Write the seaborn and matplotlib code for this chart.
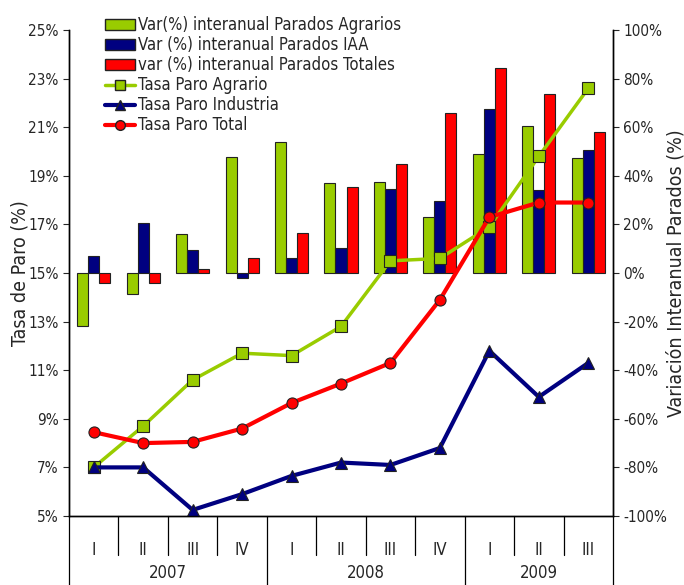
import numpy as np
import pandas as pd
import seaborn as sns
from matplotlib import pyplot as plt
from matplotlib.lines import Line2D
from matplotlib.patches import Patch

# datos
trimestres = ['I', 'II', 'III', 'IV', 'I', 'II', 'III', 'IV', 'I', 'II', 'III']
anios = ['2007', '2008', '2009']
var_agrarios = [-21.8, -8.6, 16.0, 47.7, 53.9, 37.0, 37.4, 23.0, 49.0, 60.5, 47.3]
var_iaa = [7.0, 20.6, 9.5, -2.0, 6.0, 10.4, 34.6, 29.6, 67.5, 34.0, 50.6]
var_totales = [-4.1, -4.1, 1.6, 6.0, 16.5, 35.4, 44.9, 66.0, 84.4, 73.6, 58.0]
tasa_agrario = [7.0, 8.7, 10.6, 11.7, 11.6, 12.8, 15.5, 15.6, 16.9, 19.8, 22.6]
tasa_industria = [7.0, 7.0, 5.25, 5.9, 6.65, 7.2, 7.1, 7.8, 11.8, 9.9, 11.3]
tasa_total = [8.45, 8.0, 8.05, 8.6, 9.65, 10.45, 11.3, 13.9, 17.3, 17.9, 17.9]

verde = '#99CC00'
azul = '#000080'
rojo = '#FF0000'

sns.set_style('white')
plt.rcParams['font.family'] = ['DejaVu Sans']
plt.rcParams['font.stretch'] = 'condensed'

n = len(trimestres)
x = np.arange(n)

barras = pd.DataFrame({
    'pos': np.tile(x, 3),
    'valor': var_agrarios + var_iaa + var_totales,
    'serie': ['Var(%) interanual Parados Agrarios'] * n
             + ['Var (%) interanual Parados IAA'] * n
             + ['var (%) interanual Parados Totales'] * n,
})

fig = plt.figure(figsize=(6.84, 5.85), dpi=100)
ax = fig.add_axes([69 / 684, 1 - 516 / 585, 544 / 684, 486 / 585])
ax2 = ax.twinx()

sns.barplot(data=barras, x='pos', y='valor', hue='serie', ax=ax2,
            palette=[verde, azul, rojo], width=0.67, native_scale=True,
            saturation=1, edgecolor='#222222', linewidth=0.8, legend=False)
ax2.set_ylim(-100, 100)
ax2.set_yticks(np.arange(-100, 101, 20))
ax2.set_yticklabels([f'{v}%' for v in range(-100, 101, 20)], fontsize=11)
ax2.set_ylabel('Variación Interanual Parados (%)', fontsize=14)
ax2.yaxis.set_label_coords(1 + 53 / 544, 0.5)
ax2.set_xlabel('')

ax.set_zorder(ax2.get_zorder() + 1)
ax.patch.set_visible(False)

sns.lineplot(x=x, y=tasa_agrario, ax=ax, color=verde, lw=2.5, marker='s',
             markersize=8, markeredgecolor='#222222', markeredgewidth=0.8)
sns.lineplot(x=x, y=tasa_industria, ax=ax, color=azul, lw=3, marker='^',
             markersize=9, markeredgecolor='#222222', markeredgewidth=0.8)
sns.lineplot(x=x, y=tasa_total, ax=ax, color=rojo, lw=3, marker='o',
             markersize=8, markeredgecolor='#222222', markeredgewidth=0.8)

ax.set_ylim(5, 25)
ax.set_yticks(np.arange(5, 26, 2))
ax.set_yticklabels([f'{v}%' for v in range(5, 26, 2)], fontsize=11)
ax.set_ylabel('Tasa de Paro (%)', fontsize=14)
ax.yaxis.set_label_coords(-39 / 544, 0.5)
ax.set_xlim(-0.5, n - 0.5)

# eje de categorias en dos niveles
ax.set_xticks(x)
ax.set_xticklabels(trimestres, fontsize=12)
ax.tick_params(axis='x', length=0, pad=18)
ax2.tick_params(axis='x', length=0, labelbottom=False)
ax.tick_params(axis='y', direction='out', length=4, left=True)
ax2.tick_params(axis='y', direction='out', length=4, right=True)

for a in [ax, ax2]:
    a.spines['top'].set_visible(False)
    for s in a.spines.values():
        s.set_color('black')
        s.set_linewidth(1)

sep_trim = [0.5, 1.5, 2.5, 4.5, 5.5, 6.5, 8.5, 9.5]
sep_anio = [3.5, 7.5]
for p in sep_trim:
    ax.plot([p, p], [0, -39 / 486], transform=ax.get_xaxis_transform(),
            color='black', lw=0.9, clip_on=False)
for p in sep_anio + [-0.5, n - 0.5]:
    ax.plot([p, p], [0, -70 / 486], transform=ax.get_xaxis_transform(),
            color='black', lw=0.9, clip_on=False)
for anio, c in zip(anios, [1.5, 5.5, 9.0]):
    ax.text(c, -57 / 486, anio, transform=ax.get_xaxis_transform(),
            ha='center', va='center', fontsize=12)

handles = [
    Patch(facecolor=verde, edgecolor='#222222'),
    Patch(facecolor=azul, edgecolor='#222222'),
    Patch(facecolor=rojo, edgecolor='#222222'),
    Line2D([], [], color=verde, lw=2.5, marker='s', markersize=7, markeredgecolor='#222222'),
    Line2D([], [], color=azul, lw=3, marker='^', markersize=7, markeredgecolor='#222222'),
    Line2D([], [], color=rojo, lw=3, marker='o', markersize=7, markeredgecolor='#222222'),
]
labels = ['Var(%) interanual Parados Agrarios', 'Var (%) interanual Parados IAA',
          'var (%) interanual Parados Totales', 'Tasa Paro Agrario',
          'Tasa Paro Industria', 'Tasa Paro Total']
ax.legend(handles, labels, loc='upper left', bbox_to_anchor=(0.05, 1.045),
          frameon=False, fontsize=12, handlelength=1.8, handletextpad=0.2,
          labelspacing=0.12, borderpad=0)

fig.savefig('out.png', dpi=100)
